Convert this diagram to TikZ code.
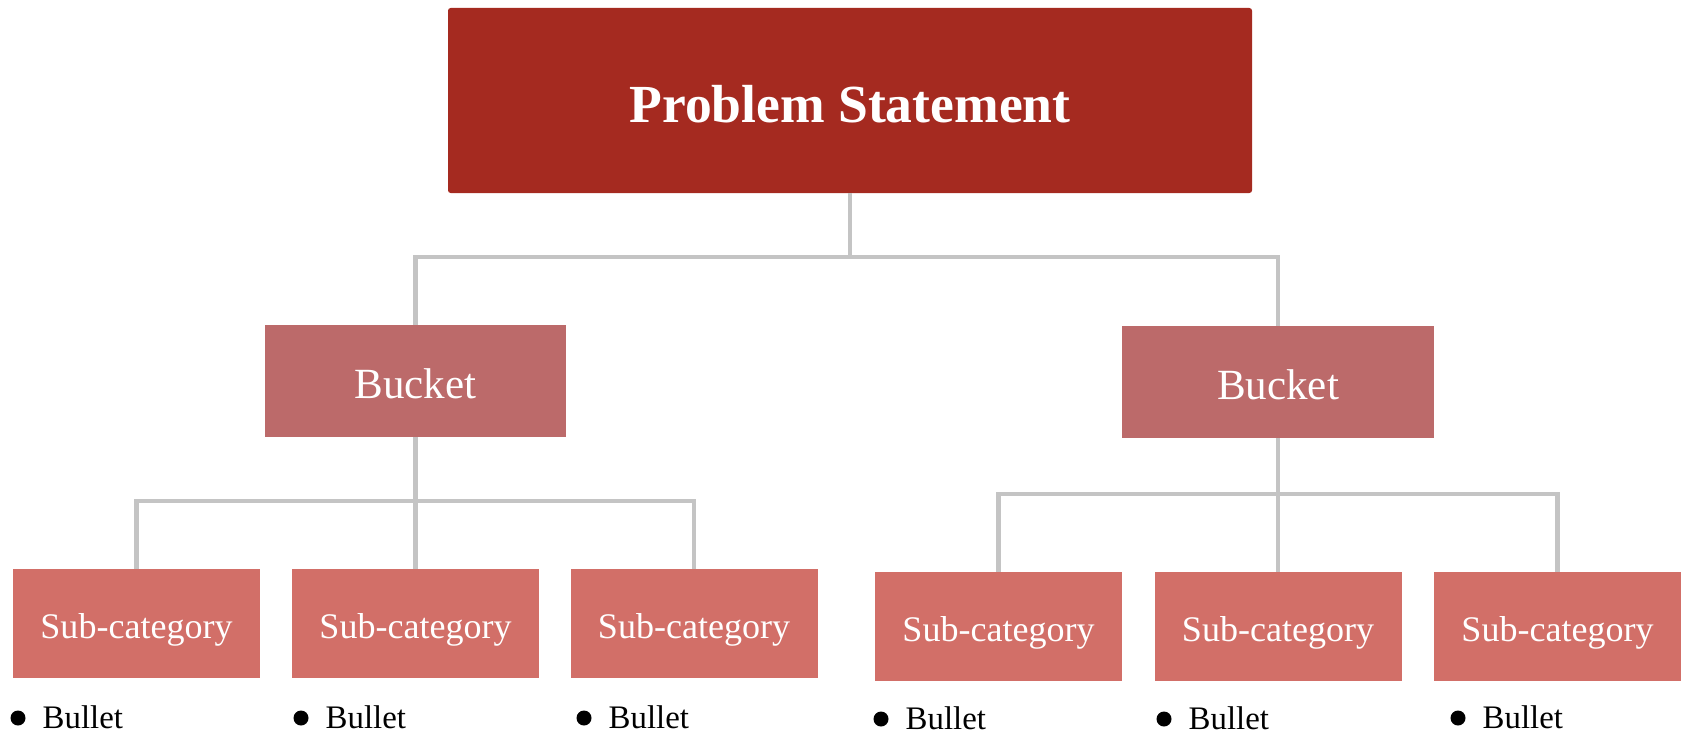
\documentclass[tikz,border=0pt]{standalone}
\usepackage{fontspec}
\setmainfont{Liberation Serif}
\usetikzlibrary{positioning}
\definecolor{probred}{HTML}{A52A20}
\definecolor{bucketred}{HTML}{BC6A6A}
\definecolor{subred}{HTML}{D26F68}
\definecolor{linkgray}{HTML}{C4C4C4}

\begin{document}
\begin{tikzpicture}[
		box/.style={inner sep=0pt, text=white, text depth=0pt, align=center},
		probbox/.style={box, fill=probred, minimum width=16.08cm, minimum height=3.7cm, rounded corners=1.5pt, text height=25.5pt, font=\fontsize{30.5}{34}\selectfont\bfseries},
		bucketbox/.style={box, fill=bucketred, minimum height=2.24cm, text height=19.6pt, font=\fontsize{24.5}{28}\selectfont},
		subbox/.style={box, fill=subred, minimum width=4.94cm, minimum height=2.18cm, text height=17.2pt, font=\fontsize{20.5}{24}\selectfont},
		link/.style={draw=linkgray, line width=2.4pt},
		dotmark/.style={circle, fill=black, inner sep=0pt, minimum size=0.3cm},
		bullettext/.style={inner sep=0pt, text height=12.4pt, text depth=0pt, font=\fontsize{18.7}{22}\selectfont}
	]
		
		\useasboundingbox (0,0) rectangle (33.64,14.68);
		
		\node[probbox] (prob) at (17.0,12.67) {Problem Statement};
		
		\node[bucketbox, minimum width=6.02cm] (bktL) at (8.31,7.06) {Bucket};
		\node[bucketbox, minimum width=6.24cm] (bktR) at (25.56,7.04) {Bucket};
		
		\node[subbox] (subL1) at (2.73,2.21) {Sub-category};
		\node[subbox] (subL2) at (8.31,2.21) {Sub-category};
		\node[subbox] (subL3) at (13.88,2.21) {Sub-category};
		\node[subbox] (subR1) at (19.97,2.15) {Sub-category};
		\node[subbox] (subR2) at (25.56,2.15) {Sub-category};
		\node[subbox] (subR3) at (31.15,2.15) {Sub-category};
		
		\draw[link] (prob.south) -- ++(0,-1.28) -| (bktL.north);
		\draw[link] (prob.south) -- ++(0,-1.28) -| (bktR.north);
		
		\draw[link] (bktL.south) -- ++(0,-1.28) -| (subL1.north);
		\draw[link] (bktL.south) -- (subL2.north);
		\draw[link] (bktL.south) -- ++(0,-1.28) -| (subL3.north);
		\draw[link] (bktR.south) -- ++(0,-1.12) -| (subR1.north);
		\draw[link] (bktR.south) -- (subR2.north);
		\draw[link] (bktR.south) -- ++(0,-1.12) -| (subR3.north);
		
		\node[dotmark] (dotL1) at (0.36,0.32) {};
		\node[dotmark] (dotL2) at (6.02,0.32) {};
		\node[dotmark] (dotL3) at (11.68,0.32) {};
		\node[dotmark] (dotR1) at (17.62,0.3) {};
		\node[dotmark] (dotR2) at (23.28,0.3) {};
		\node[dotmark] (dotR3) at (29.16,0.32) {};
		
		\node[bullettext, right=0.33cm of dotL1] (txtL1) {Bullet};
		\node[bullettext, right=0.33cm of dotL2] (txtL2) {Bullet};
		\node[bullettext, right=0.33cm of dotL3] (txtL3) {Bullet};
		\node[bullettext, right=0.33cm of dotR1] (txtR1) {Bullet};
		\node[bullettext, right=0.33cm of dotR2] (txtR2) {Bullet};
		\node[bullettext, right=0.33cm of dotR3] (txtR3) {Bullet};
		
	\end{tikzpicture}
\end{document}
